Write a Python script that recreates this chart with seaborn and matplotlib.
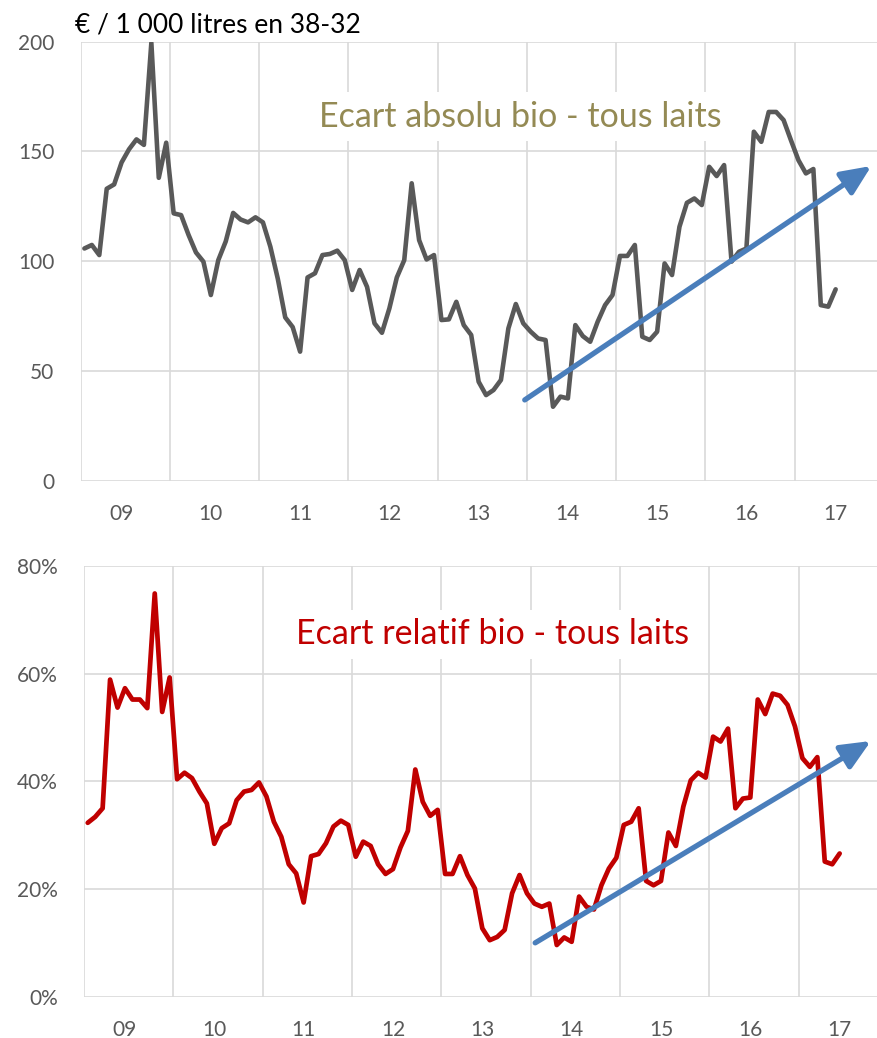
import numpy as np
import pandas as pd
import seaborn as sns
import matplotlib.pyplot as plt

# years shown on the category axis (monthly data, Jan 2009 -> Jun 2017)
years = ['09', '10', '11', '12', '13', '14', '15', '16', '17']

# écart absolu bio - tous laits, €/1000 l
ecart_absolu = [
    105.8, 107.4, 102.8, 133.0, 135.0, 145.0, 151.0, 155.5, 153.0, 199.5, 138.0, 154.0,
    121.8, 121.0, 112.0, 104.0, 99.8, 84.6, 100.5, 109.0, 122.0, 119.0, 117.7, 120.0,
    117.7, 106.6, 92.0, 74.4, 70.0, 58.8, 92.6, 94.5, 102.8, 103.3, 104.8, 100.5,
    86.9, 96.0, 88.3, 71.7, 67.4, 78.5, 92.6, 100.5, 135.5, 109.6, 100.8, 102.8,
    73.2, 73.5, 81.5, 70.9, 66.4, 45.1, 39.0, 41.3, 45.9, 69.4, 80.5, 71.7,
    67.9, 64.8, 64.1, 33.7, 38.3, 37.5, 70.9, 65.9, 63.3, 72.4, 80.0, 84.6,
    102.4, 102.4, 107.4, 65.6, 64.1, 67.9, 99.0, 93.7, 115.7, 126.6, 128.6, 125.6,
    143.0, 138.8, 143.8, 99.8, 104.3, 105.8, 159.0, 154.4, 168.0, 168.0, 164.3, 155.0,
    146.0, 140.0, 142.0, 80.0, 79.3, 87.2,
]

# écart relatif bio - tous laits, %
ecart_relatif = [
    32.3, 33.4, 35.0, 58.9, 53.7, 57.3, 55.2, 55.2, 53.6, 74.9, 52.9, 59.3,
    40.4, 41.6, 40.6, 38.1, 35.9, 28.4, 31.3, 32.2, 36.5, 38.1, 38.4, 39.8,
    37.2, 32.5, 29.7, 24.6, 22.9, 17.5, 26.1, 26.5, 28.5, 31.6, 32.7, 31.9,
    26.0, 28.8, 28.0, 24.6, 22.8, 23.7, 27.7, 30.8, 42.2, 36.2, 33.6, 34.7,
    22.8, 22.8, 26.1, 22.6, 20.1, 12.7, 10.5, 11.1, 12.4, 19.2, 22.6, 19.2,
    17.3, 16.7, 17.3, 9.6, 11.0, 10.2, 18.6, 16.7, 16.2, 20.7, 23.8, 25.8,
    31.9, 32.5, 35.0, 21.5, 20.7, 21.5, 30.5, 28.0, 35.3, 40.2, 41.6, 40.7,
    48.3, 47.4, 49.8, 35.0, 36.8, 37.0, 55.2, 52.5, 56.3, 55.9, 54.2, 50.2,
    44.3, 42.7, 44.5, 25.1, 24.6, 26.6,
]

# trend arrows (start, tip) in (month index, value)
tendance_absolu = [(59.2, 36.8), (105.8, 143.4)]
tendance_relatif = [(60.1, 10.0), (105.2, 47.5)]

sns.set_theme(style='white')
plt.rcParams['font.family'] = ['Lato', 'DejaVu Sans']

df = pd.DataFrame({
    'mois': np.arange(len(ecart_absolu)),
    'absolu': ecart_absolu,
    'relatif': ecart_relatif,
})

grey = '#595959'
grid_col = '#D9D9D9'
arrow_col = '#4A7EBB'

fig = plt.figure(figsize=(8.77, 10.38), dpi=100)
ax1 = fig.add_axes([0.092, 0.5369, 0.916, 0.4229])
ax2 = fig.add_axes([0.0958, 0.0398, 0.9168, 0.4149])


def style_axes(ax, yticks, ylabels):
    n = len(years)
    ax.set_xlim(-0.5, 12 * n - 0.5)
    ax.set_xticks(np.arange(n) * 12 - 0.5)
    ax.set_xticklabels([])
    ax.set_xticks(np.arange(n) * 12 + 5, minor=True)
    ax.set_xticklabels(years, minor=True)
    ax.tick_params(axis='x', which='both', length=0)
    ax.tick_params(axis='x', which='minor', pad=17, labelsize=15, labelcolor=grey)
    ax.set_yticks(yticks)
    ax.set_yticklabels(ylabels)
    ax.set_ylim(yticks[0], yticks[-1])
    ax.tick_params(axis='y', length=0, pad=19, labelsize=15, labelcolor=grey)
    ax.grid(True, which='major', color=grid_col, lw=1.2)
    ax.grid(False, which='minor')
    ax.set_axisbelow(True)
    for s in ax.spines.values():
        s.set_visible(False)
    ax.set_xlabel('')
    ax.set_ylabel('')


def trend_arrow(ax, pts):
    ax.annotate('', xy=pts[1], xytext=pts[0],
                arrowprops=dict(arrowstyle='-|>,head_length=0.9,head_width=0.4',
                                mutation_scale=20, lw=3.8, color=arrow_col,
                                shrinkA=0, shrinkB=0))


# top panel: absolute gap
sns.lineplot(data=df, x='mois', y='absolu', ax=ax1, color=grey, lw=3.3)
style_axes(ax1, [0, 50, 100, 150, 200], ['0', '50', '100', '150', '200'])
ax1.text(58.6, 161.3, 'Ecart absolu bio - tous laits', color='#948A54', fontsize=24.5,
         ha='center', va='baseline',
         bbox=dict(boxstyle='square,pad=0.25', fc='white', ec='none'))
trend_arrow(ax1, tendance_absolu)

# bottom panel: relative gap
sns.lineplot(data=df, x='mois', y='relatif', ax=ax2, color='#C00000', lw=3.4)
style_axes(ax2, [0, 20, 40, 60, 80], ['0%', '20%', '40%', '60%', '80%'])
ax2.text(54.4, 65.5, 'Ecart relatif bio - tous laits', color='#C00000', fontsize=24.5,
         ha='center', va='baseline',
         bbox=dict(boxstyle='square,pad=0.25', fc='white', ec='none'))
trend_arrow(ax2, tendance_relatif)

fig.text(75 / 877, 1 - 32 / 1038, '€ / 1 000 litres en 38-32', fontsize=19,
         color='black', va='baseline')

fig.savefig('out.png', dpi=100)
